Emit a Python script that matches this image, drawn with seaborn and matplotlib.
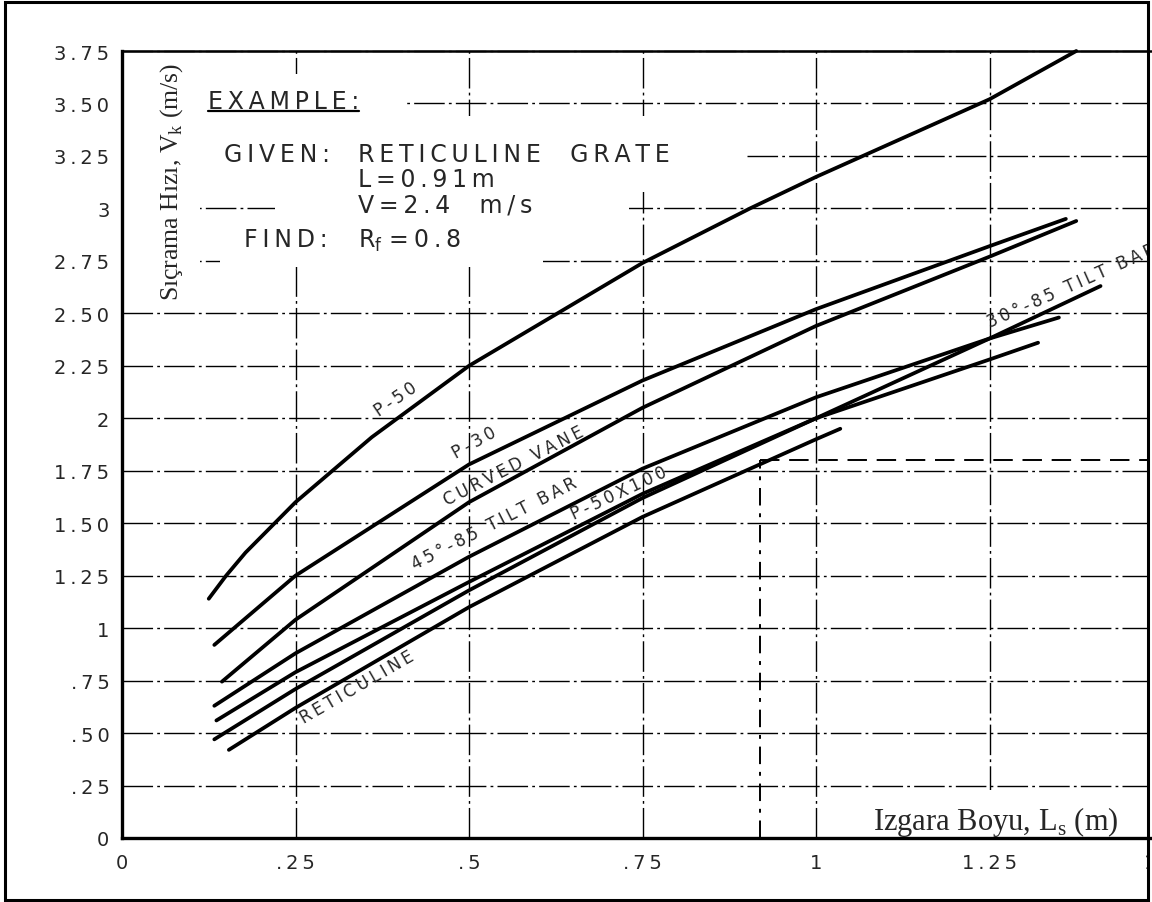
import matplotlib
matplotlib.use("Agg")
import matplotlib.pyplot as plt
from matplotlib.patches import Rectangle
from matplotlib.transforms import Bbox, TransformedBbox
import pandas as pd
import seaborn as sns

# grate length Ls (m) -> splash-over velocity Vk (m/s)
p50_x = [0.125, 0.15, 0.178, 0.25, 0.36, 0.5, 0.75, 0.905, 1.0, 1.25, 1.375]
p50_y = [1.14, 1.25, 1.36, 1.60, 1.91, 2.25, 2.74, 3.00, 3.15, 3.52, 3.75]
p30_x = [0.133, 0.25, 0.5, 0.75, 1.0, 1.25, 1.36]
p30_y = [0.92, 1.25, 1.78, 2.18, 2.52, 2.82, 2.95]
vane_x = [0.144, 0.25, 0.5, 0.75, 1.0, 1.25, 1.375]
vane_y = [0.745, 1.04, 1.60, 2.05, 2.44, 2.77, 2.94]
tilt45_x = [0.133, 0.25, 0.5, 0.75, 1.0, 1.25, 1.35]
tilt45_y = [0.63, 0.88, 1.34, 1.76, 2.10, 2.38, 2.48]
p50x100_x = [0.136, 0.25, 0.5, 0.75, 1.0, 1.25, 1.32]
p50x100_y = [0.56, 0.79, 1.22, 1.64, 2.0, 2.28, 2.36]
tilt30_x = [0.133, 0.25, 0.5, 0.75, 1.0, 1.25, 1.41]
tilt30_y = [0.47, 0.71, 1.18, 1.62, 2.0, 2.38, 2.63]
retic_x = [0.154, 0.25, 0.5, 0.75, 1.0, 1.035]
retic_y = [0.42, 0.62, 1.10, 1.53, 1.90, 1.95]

curve_names = ["P-50", "P-30", "CURVED VANE", "45°-85 TILT BAR",
               "P-50X100", "30°-85 TILT BAR", "RETICULINE"]

x_ticks = [0, 0.25, 0.5, 0.75, 1.0, 1.25, 1.5]
x_tick_labels = ["0", ".25", ".5", ".75", "1", "1.25", "1.5"]
y_ticks = [0, 0.25, 0.5, 0.75, 1.0, 1.25, 1.5, 1.75, 2.0, 2.25, 2.5, 2.75,
           3.0, 3.25, 3.5, 3.75]
y_tick_labels = ["0", ".25", ".50", ".75", "1", "1.25", "1.50", "1.75", "2",
                 "2.25", "2.50", "2.75", "3", "3.25", "3.50", "3.75"]

# worked example: L = 0.91 m, V = 2.4 m/s
ex_L = 0.92
ex_V = 1.8


def spread(s, gap="\u2009"):
    # plotter lettering is loosely spaced
    return gap.join(s)


sns.set_style("white")
plt.rcParams["font.family"] = ["DejaVu Sans"]
plt.rcParams["mathtext.fontset"] = "custom"
plt.rcParams["mathtext.rm"] = "Liberation Serif"
plt.rcParams["mathtext.sf"] = "DejaVu Sans"

fig = plt.figure(figsize=(11.52, 9.03), dpi=100)
ax = fig.add_axes([122 / 1152, 64 / 903, 1041 / 1152, 787 / 903])

xs = [p50_x, p30_x, vane_x, tilt45_x, p50x100_x, tilt30_x, retic_x]
ys = [p50_y, p30_y, vane_y, tilt45_y, p50x100_y, tilt30_y, retic_y]
df = pd.concat([pd.DataFrame({"Ls": x, "Vk": y, "grate": n})
                for n, x, y in zip(curve_names, xs, ys)], ignore_index=True)

sns.lineplot(data=df, x="Ls", y="Vk", hue="grate", units="grate",
             estimator=None, sort=False, legend=False,
             palette={n: "black" for n in curve_names},
             linewidth=2.7, ax=ax, zorder=3)

ax.set_xlim(0, 1.5)
ax.set_ylim(0, 3.75)
ax.set_xticks(x_ticks)
ax.set_xticklabels([spread(t) for t in x_tick_labels])
ax.set_yticks(y_ticks)
ax.set_yticklabels([spread(t) for t in y_tick_labels])
ax.tick_params(axis="both", length=0, labelsize=14)
ax.tick_params(axis="y", pad=9)
ax.tick_params(axis="x", pad=11)
ax.set_xlabel("")
ax.set_ylabel("")

ax.grid(True, color="black", linewidth=1.0, linestyle=(0, (22, 3, 2, 3)))
ax.set_axisbelow(True)
for side, lw in [("left", 2.4), ("bottom", 2.4), ("top", 1.8)]:
    ax.spines[side].set_linewidth(lw)
    ax.spines[side].set_color("black")
ax.spines["right"].set_visible(False)

# white patches where the scanned grid is blanked by the lettering
for (x0, y0, w, h) in [(0, 2.54, 0.112, 1.19), (0.112, 3.40, 0.294, 0.24),
                       (0.112, 3.08, 0.786, 0.36), (0.22, 2.91, 0.51, 0.30),
                       (0.141, 2.72, 0.466, 0.22), (1.075, 0.005, 0.43, 0.225)]:
    ax.add_patch(Rectangle((x0, y0), w, h, facecolor="white",
                           edgecolor="none", zorder=1))

# example construction lines
ax.plot([ex_L, ex_L], [0, ex_V], color="black", lw=1.4,
        linestyle=(0, (9, 4, 2, 4)), zorder=2)
ax.plot([ex_L, 1.5], [ex_V, ex_V], color="black", lw=1.4,
        linestyle=(0, (10, 5)), zorder=2)

# curve labels
lab_kw = dict(fontsize=12, ha="center", va="center", rotation_mode="anchor",
              zorder=4)
ax.text(0.394, 2.095, spread("P-50"), rotation=34, **lab_kw)
ax.text(0.508, 1.885, spread("P-30"), rotation=29, **lab_kw)
ax.text(0.565, 1.775, spread("CURVED VANE"), rotation=27, **lab_kw)
ax.text(0.537, 1.50, spread("45°-85 TILT BAR"), rotation=27, **lab_kw)
ax.text(0.716, 1.645, spread("P-50X100"), rotation=25, **lab_kw)
ax.text(0.339, 0.72, spread("RETICULINE"), rotation=30, **lab_kw)
t30 = ax.text(1.251, 2.433, spread("30°-85 TILT BAR"), rotation=24,
              fontsize=12, ha="left", va="baseline", rotation_mode="anchor",
              zorder=4)

# example block
ex_kw = dict(fontsize=17, ha="left", va="baseline", zorder=4)
t_ex = ax.text(0.124, 3.48, spread("EXAMPLE:"), **ex_kw)
ax.text(0.147, 3.224, spread("GIVEN:"), **ex_kw)
ax.text(0.34, 3.224, spread("RETICULINE  GRATE"), **ex_kw)
ax.text(0.34, 3.105, spread("L=0.91m"), **ex_kw)
ax.text(0.34, 2.986, spread("V=2.4  m/s"), **ex_kw)
ax.text(0.176, 2.819, spread("FIND:"), **ex_kw)
ax.text(0.34, 2.819, "R$_\\mathsf{f}$" + "\u2004" + spread("=0.8"), **ex_kw)

# axis titles, lettered inside the plot in a serif face
ax.text(0.072, 3.13, "Sıçrama Hızı, V$_\\mathrm{k}$ (m/s)", rotation=90,
        family="Liberation Serif", fontsize=18.5, ha="center", va="center",
        zorder=4)
ax.text(1.082, 0.043, "Izgara Boyu, L$_\\mathrm{s}$ (m)",
        family="Liberation Serif", fontsize=22, ha="left", va="baseline",
        zorder=4)

# underline under EXAMPLE:
fig.canvas.draw()
bb = t_ex.get_window_extent().transformed(ax.transData.inverted())
ax.plot([bb.x0, bb.x1], [3.462, 3.462], color="black", lw=1.6, zorder=4)

# the scanned page is cut at its right frame line
page = TransformedBbox(Bbox([[0, 0], [1148 / 1152, 1]]), fig.transFigure)
for art in [t30] + ax.get_xticklabels() + ax.lines + ax.get_xgridlines() \
        + ax.get_ygridlines():
    art.set_clip_box(page)
    art.set_clip_on(True)

# outer frame of the scanned page
fig.add_artist(Rectangle((5 / 1152, 2 / 903), 1143 / 1152, 898 / 903,
                         transform=fig.transFigure, fill=False,
                         edgecolor="black", linewidth=2.2))

fig.savefig("out.png", dpi=100)
